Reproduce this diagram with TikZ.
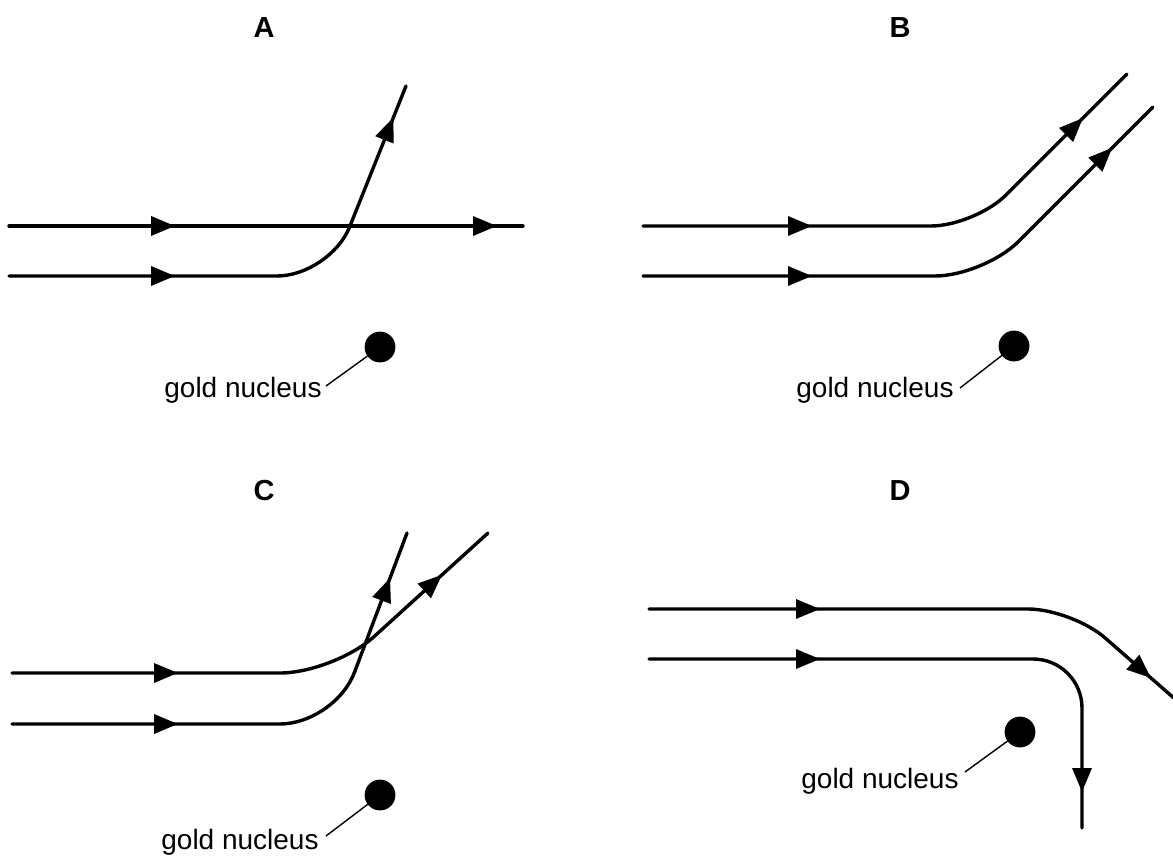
\documentclass[tikz,border=0pt]{standalone}
\usepackage{fontspec}
\setmainfont{Liberation Sans}
\usetikzlibrary{arrows.meta,decorations.markings}
\tikzset{
  traj/.style={line width=1.7pt, line cap=round},
  arrat/.style={postaction={decorate,decoration={markings,
      mark=at position #1 with {\arrow{Triangle[length=12pt,width=9.5pt]}}}}},
  nucleus/.style={circle, fill=black, draw=black, minimum size=15pt, inner sep=0pt},
  nlabel/.style={font=\fontsize{14}{16}\selectfont, inner sep=0pt},
  title/.style={font=\fontsize{14.5}{16}\selectfont\bfseries, inner sep=0pt},
  leader/.style={line width=0.7pt},
}
\begin{document}
\begin{tikzpicture}[x=0.5pt,y=-0.5pt]
\useasboundingbox (0,0) rectangle (1173,856);

% titles
\node[title] (tA) at (264,28) {A};
\node[title] (tB) at (900,28) {B};
\node[title] (tC) at (264,491) {C};
\node[title] (tD) at (900,491) {D};

% ---------- A ----------
\coordinate (a1s) at (9,226);  \coordinate (a1e) at (523,226);
\coordinate (a2s) at (9,276);  \coordinate (a2c) at (330,276); \coordinate (a2e) at (406,86);
\draw[traj, arrat=83pt, arrat=244pt] (a1s) -- (a1e);
\draw[traj, rounded corners=26.5pt, arrat=83pt, arrat=-17pt] (a2s) -- (a2c) -- (a2e);
\node[nucleus] (nucA) at (380,347) {};
\node[nlabel] (labA) at (243,390) {gold nucleus};
\coordinate (lA) at (326,386);
\draw[leader] (lA) -- (nucA);

% ---------- B ----------
\coordinate (b1s) at (643,226); \coordinate (b1c) at (975,226); \coordinate (b1e) at (1127,74);
\coordinate (b2s) at (643,276); \coordinate (b2c) at (984,276); \coordinate (b2e) at (1153,107);
\draw[traj, rounded corners=22pt, arrat=84.5pt, arrat=-31pt] (b1s) -- (b1c) -- (b1e);
\draw[traj, rounded corners=24.5pt, arrat=84.5pt, arrat=-28.5pt] (b2s) -- (b2c) -- (b2e);
\node[nucleus] (nucB) at (1014,346) {};
\node[nlabel] (labB) at (875,390) {gold nucleus};
\coordinate (lB) at (960,388);
\draw[leader] (lB) -- (nucB);

% ---------- C ----------
\coordinate (c1s) at (12,673); \coordinate (c1c) at (334,673); \coordinate (c1e) at (488,533);
\coordinate (c2s) at (12,724); \coordinate (c2c) at (335,724); \coordinate (c2e) at (407,533);
\draw[traj, rounded corners=27pt, arrat=83pt, arrat=-31pt] (c1s) -- (c1c) -- (c1e);
\draw[traj, rounded corners=27.5pt, arrat=83pt, arrat=-24pt] (c2s) -- (c2c) -- (c2e);
\node[nucleus] (nucC) at (380,795) {};
\node[nlabel] (labC) at (240,842) {gold nucleus};
\coordinate (lC) at (326,836);
\draw[leader] (lC) -- (nucC);

% ---------- D ----------
\coordinate (d1s) at (649,609); \coordinate (d1c) at (1072,609); \coordinate (d1e) at (1175,699);
\coordinate (d2s) at (649,659); \coordinate (d2c) at (1082,659); \coordinate (d2e) at (1082,828);
\draw[traj, rounded corners=22pt, arrat=85.5pt, arrat=-16pt] (d1s) -- (d1c) -- (d1e);
\draw[traj, rounded corners=24.5pt, arrat=85.5pt, arrat=-18pt] (d2s) -- (d2c) -- (d2e);
\node[nucleus] (nucD) at (1020,732) {};
\node[nlabel] (labD) at (880,781) {gold nucleus};
\coordinate (lD) at (965,772);
\draw[leader] (lD) -- (nucD);
\end{tikzpicture}
\end{document}
